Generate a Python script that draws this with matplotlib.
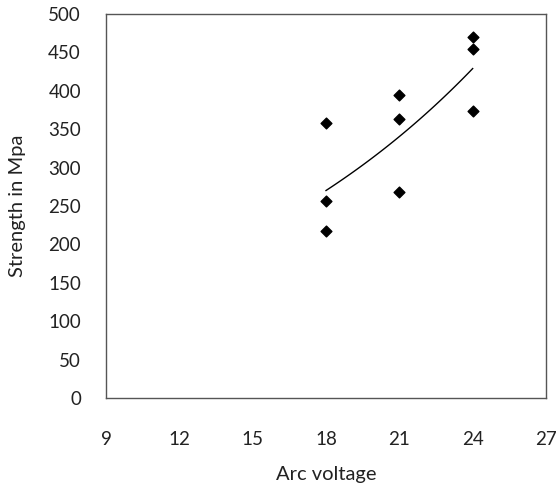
import matplotlib
matplotlib.use('Agg')
import matplotlib.pyplot as plt
import numpy as np

plt.rcParams['font.family'] = ['Lato', 'DejaVu Sans']

arc_voltage = [18, 18, 18, 21, 21, 21, 24, 24, 24]
strength = [358, 256, 218, 395, 363, 268, 470, 455, 374]

x_ticks = [9, 12, 15, 18, 21, 24, 27]
y_ticks = [0, 50, 100, 150, 200, 250, 300, 350, 400, 450, 500]

fig = plt.figure(figsize=(5.56, 4.87), dpi=100)
ax = fig.add_axes([106 / 556, 1 - 398 / 487, 440 / 556, 384 / 487])

ax.scatter(arc_voltage, strength, marker='D', s=30, color='black', zorder=3)

# exponential trendline (least squares on log y, like Excel)
b, a = np.polyfit(arc_voltage, np.log(strength), 1)
xs = np.linspace(min(arc_voltage), max(arc_voltage), 100)
ax.plot(xs, np.exp(a + b * xs), color='black', lw=1)

ax.set_xlim(9, 27)
ax.set_ylim(0, 500)
ax.set_xticks(x_ticks)
ax.set_yticks(y_ticks)
ax.tick_params(length=0, labelsize=13.5, colors='#222222')
ax.tick_params(axis='y', pad=18)
ax.tick_params(axis='x', pad=24)
for s in ax.spines.values():
    s.set_color('#555555')
    s.set_linewidth(1)

ax.set_xlabel('Arc voltage', fontsize=14.5, color='#222222', va='center')
ax.set_ylabel('Strength in Mpa', fontsize=14.5, color='#222222', va='center')
ax.xaxis.set_label_coords(0.5, -0.2)
ax.yaxis.set_label_coords(-0.2, 0.5)

fig.savefig('out.png', dpi=100)
